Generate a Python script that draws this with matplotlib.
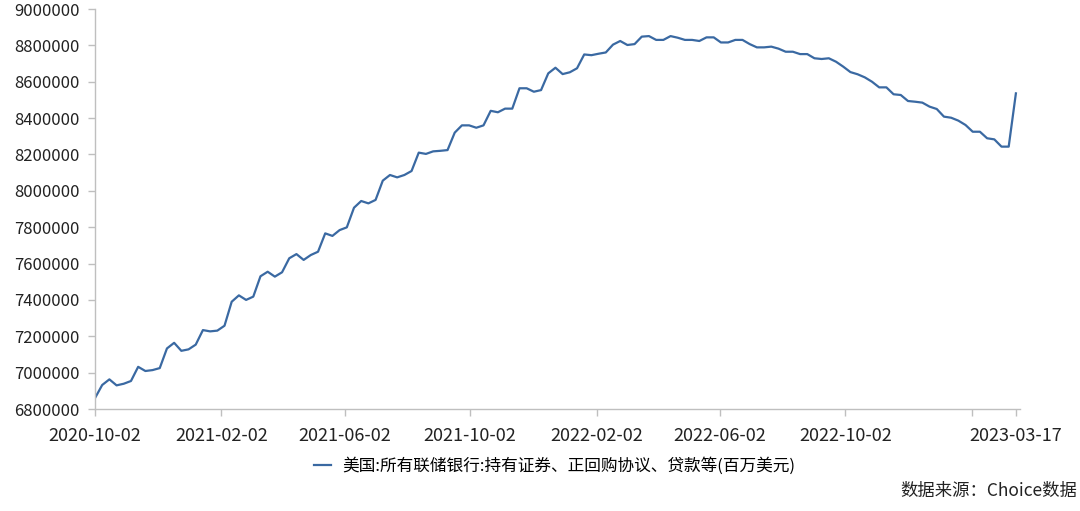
import matplotlib
matplotlib.use('Agg')
import matplotlib.pyplot as plt
import numpy as np
import pandas as pd

plt.rcParams['font.family'] = ['Noto Sans CJK SC', 'DejaVu Sans']

# weekly, 2020-10-02 .. 2023-03-17
start_date = '2020-10-02'
end_date = '2023-03-17'
holdings = [
    6860000, 6932000, 6963000, 6930000, 6939000, 6954000, 7032000, 7009000,
    7014000, 7025000, 7133000, 7164000, 7120000, 7128000, 7154000, 7234000,
    7227000, 7231000, 7258000, 7390000, 7425000, 7400000, 7418000, 7530000,
    7555000, 7528000, 7552000, 7629000, 7652000, 7620000, 7647000, 7665000,
    7766000, 7752000, 7784000, 7799000, 7907000, 7944000, 7931000, 7950000,
    8056000, 8087000, 8074000, 8087000, 8109000, 8210000, 8203000, 8217000,
    8220000, 8224000, 8320000, 8360000, 8360000, 8347000, 8360000, 8440000,
    8432000, 8452000, 8452000, 8564000, 8564000, 8545000, 8554000, 8646000,
    8677000, 8642000, 8652000, 8674000, 8750000, 8746000, 8754000, 8761000,
    8804000, 8824000, 8802000, 8807000, 8848000, 8851000, 8830000, 8830000,
    8851000, 8842000, 8830000, 8830000, 8824000, 8844000, 8844000, 8816000,
    8816000, 8830000, 8830000, 8807000, 8789000, 8789000, 8793000, 8782000,
    8765000, 8765000, 8752000, 8752000, 8729000, 8725000, 8729000, 8710000,
    8683000, 8653000, 8641000, 8624000, 8600000, 8569000, 8569000, 8531000,
    8527000, 8494000, 8490000, 8485000, 8463000, 8450000, 8408000, 8402000,
    8386000, 8362000, 8325000, 8325000, 8289000, 8283000, 8243000, 8243000,
    8536000,
]
tick_dates = ['2020-10-02', '2021-02-02', '2021-06-02', '2021-10-02',
              '2022-02-02', '2022-06-02', '2022-10-02', '2023-02-02', '2023-03-17']
tick_labels = ['2020-10-02', '2021-02-02', '2021-06-02', '2021-10-02',
               '2022-02-02', '2022-06-02', '2022-10-02', '', '2023-03-17']

dates = pd.date_range(start_date, end_date, freq='7D')

fig = plt.figure(figsize=(10.8, 5.11), dpi=100)
ax = fig.add_axes([95/1080, 1-409/511, 925/1080, 400/511])

ax.plot(dates, holdings, color='#3A69A2', lw=1.6,
        label='美国:所有联储银行:持有证券、正回购协议、贷款等(百万美元)')

ax.set_ylim(6800000, 9000000)
ax.set_yticks(np.arange(6800000, 9000001, 200000))
ax.set_yticklabels([str(v) for v in range(6800000, 9000001, 200000)])
ax.set_xlim(pd.Timestamp(start_date), pd.Timestamp('2023-03-21'))
ax.set_xticks(pd.to_datetime(tick_dates))
ax.set_xticklabels(tick_labels)

for s in ['top', 'right']:
    ax.spines[s].set_visible(False)
for s in ['left', 'bottom']:
    ax.spines[s].set_color('#BFBFBF')
    ax.spines[s].set_linewidth(1.0)
ax.tick_params(axis='both', colors='#BFBFBF', length=5, width=1.0,
               labelcolor='#222222', labelsize=12)
ax.tick_params(axis='x', pad=8, labelsize=13)
ax.tick_params(axis='y', pad=6)

fig.legend(loc='center', bbox_to_anchor=(555/1080, 1-466/511), frameon=False,
           fontsize=12, handlelength=1.0, handletextpad=0.7)
fig.text(1077/1080, 1-491/511, '数据来源：Choice数据', ha='right', va='center',
         fontsize=12.5, color='#222222')

fig.savefig('out.png', dpi=100)
